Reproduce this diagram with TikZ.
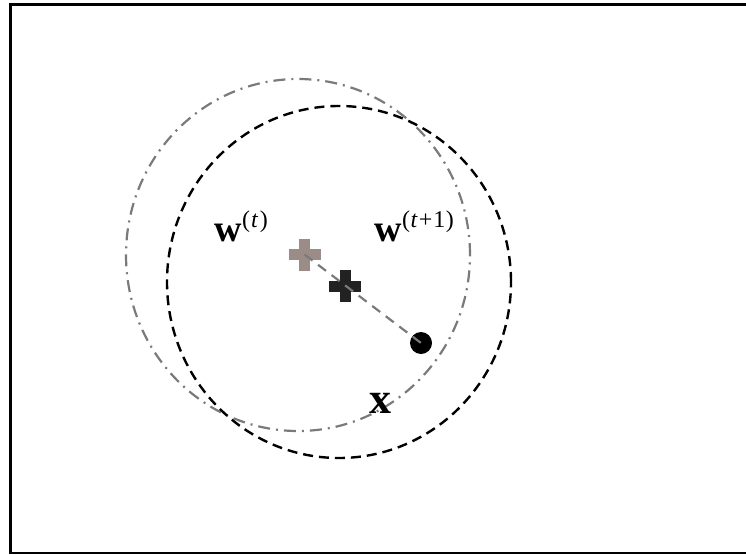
\documentclass[tikz,border=0pt]{standalone}
\usepackage{fontspec}
\setmainfont{Liberation Serif}
\definecolor{gplus}{HTML}{9C8C88}
\definecolor{bplus}{HTML}{222222}
\definecolor{lgray}{HTML}{7A7A7A}
\begin{document}
\begin{tikzpicture}[x=1pt,y=-1pt,
  lbl/.style={inner sep=0pt, anchor=base west, font=\fontsize{38}{38}\selectfont},
  graycirc/.style={draw=lgray, line width=2.2pt, dash pattern=on 12pt off 6pt on 2pt off 6pt},
  blackcirc/.style={draw=black, line width=2.4pt, dash pattern=on 10pt off 6pt},
  joinline/.style={draw=lgray, line width=2.2pt, dash pattern=on 10pt off 7pt},
  plussign/.pic={\fill (-16,-5.5) rectangle (16,5.5); \fill (-5.5,-16) rectangle (5.5,16);}
]
\useasboundingbox (0,0) rectangle (746,554);
% frame (open on the right, as cropped)
\draw[line width=2.6pt] (760,4.7) -- (10.7,4.7) -- (10.7,553) -- (760,553);
% circles
\draw[graycirc] (298,255) ellipse [x radius=172pt, y radius=176pt];
\draw[blackcirc] (339,282) ellipse [x radius=172pt, y radius=176pt];
% points
\coordinate (gp) at (304.5,254.5);
\coordinate (bp) at (345,286);
\pic[color=gplus] at (gp) {plussign};
\pic[color=bplus] at (bp) {plussign};
\node[circle, fill=black, minimum size=22pt, inner sep=0pt] (xp) at (421,343) {};
\draw[joinline] (gp) -- (xp.center);
% labels
\node[lbl] (wt) at (214,241) {\textbf{w}\kern0.5pt\raisebox{13.5pt}{\fontsize{24}{24}\selectfont(\kern1pt\textit{t}\kern1.5pt)}};
\node[lbl] (wt1) at (374,241) {\textbf{w}\kern0.5pt\raisebox{13.5pt}{\fontsize{24}{24}\selectfont(\kern0.5pt\textit{t}\kern1pt+\kern1pt1\kern0.5pt)}};
\node[lbl, font=\fontsize{44}{44}\selectfont] (xl) at (369,413) {\textbf{x}};
\end{tikzpicture}
\end{document}
